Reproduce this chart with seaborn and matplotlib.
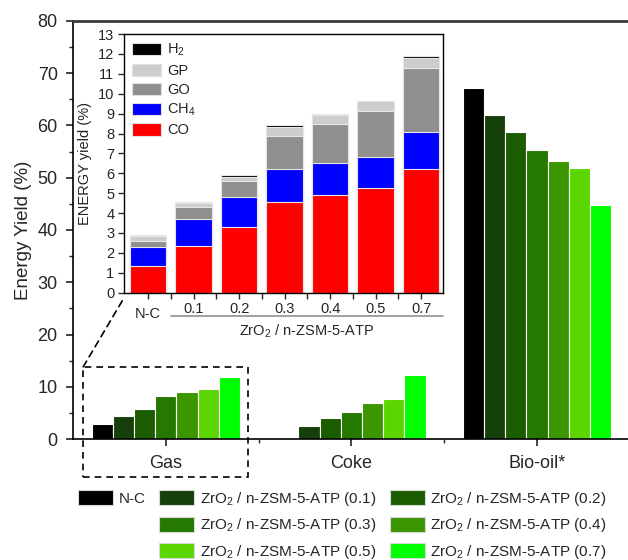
import numpy as np
import pandas as pd
import matplotlib
matplotlib.use("Agg")
import matplotlib.pyplot as plt
import seaborn as sns
from matplotlib.patches import Rectangle, ConnectionPatch, Patch
from matplotlib.ticker import MultipleLocator, FixedLocator
from matplotlib.transforms import ScaledTranslation

# ---------------- data ----------------
categories = ["Gas", "Coke", "Bio-oil*"]
samples = ["N-C", "0.1", "0.2", "0.3", "0.4", "0.5", "0.7"]
sample_labels = ["N-C"] + ["ZrO$_2$ / n-ZSM-5-ATP (%s)" % s for s in samples[1:]]
gas_yield = [2.9, 4.5, 5.85, 8.35, 8.95, 9.6, 11.85]
coke_yield = [0.0, 2.5, 4.0, 5.3, 6.95, 7.7, 12.3]
biooil_yield = [67.2, 62.0, 58.8, 55.3, 53.2, 51.8, 44.8]
sample_colors = ["#000000", "#16400a", "#1c5c00", "#257800", "#3c9600", "#5cd600", "#00ff00"]

inset_labels = ["N-C", "0.1", "0.2", "0.3", "0.4", "0.5", "0.7"]
co = [1.32, 2.36, 3.28, 4.56, 4.89, 5.24, 6.22]
ch4 = [0.98, 1.36, 1.54, 1.67, 1.61, 1.59, 1.87]
go = [0.30, 0.60, 0.81, 1.63, 1.96, 2.28, 3.19]
gp = [0.25, 0.20, 0.20, 0.47, 0.48, 0.50, 0.52]
h2 = [0.06, 0.06, 0.08, 0.08, 0.06, 0.04, 0.08]
gas_components = ["CO", "CH$_4$", "GO", "GP", "H$_2$"]
component_colors = ["#ff0000", "#0000ff", "#8f8f8f", "#cdcdcd", "#000000"]

# ---------------- style ----------------
sns.set_style("ticks")
plt.rcParams["font.family"] = ["Liberation Sans", "DejaVu Sans"]
plt.rcParams["mathtext.fontset"] = "custom"
plt.rcParams["mathtext.rm"] = "Liberation Sans"
plt.rcParams["mathtext.default"] = "regular"

W, H = 628, 560
fig = plt.figure(figsize=(W / 100, H / 100), dpi=100)

# ---------------- main axes ----------------
ax = fig.add_axes([73 / W, (H - 439.3) / H, 1 - 73 / W, (439.3 - 20.7) / H])
df = pd.DataFrame({
    "category": np.repeat(categories, len(samples)),
    "sample": samples * len(categories),
    "value": gas_yield + coke_yield + biooil_yield,
})
sns.barplot(data=df, x="category", y="value", hue="sample", order=categories,
            hue_order=samples, palette=sample_colors, saturation=1, width=0.8,
            errorbar=None, edgecolor="white", linewidth=0.8, legend=False, ax=ax)
ax.set_xlim(-0.5, 2.49)
ax.set_ylim(0, 80)
ax.set_xlabel("")
ax.set_ylabel("Energy Yield (%)", fontsize=13.5, labelpad=4)
ax.yaxis.set_major_locator(MultipleLocator(10))
ax.yaxis.set_minor_locator(MultipleLocator(5))
ax.set_xticks([0, 1, 2])
ax.set_xticklabels(categories)
ax.xaxis.set_minor_locator(FixedLocator([0.5, 1.5]))
ax.tick_params(axis="both", which="major", direction="out", length=5, width=1.2,
               labelsize=13, pad=6)
ax.tick_params(axis="both", which="minor", direction="out", length=3, width=1.0)
ax.spines["right"].set_visible(False)
ax.spines["top"].set_visible(True)
ax.spines["top"].set_color("#3a3a3a")
ax.spines["top"].set_linewidth(2.0)
for s in ["left", "bottom"]:
    ax.spines[s].set_linewidth(1.2)
    ax.spines[s].set_color("black")

# dashed box around gas group and connector to the inset
box = Rectangle((-0.445, -7.2), 0.89, 21.05, fill=False, linestyle=(0, (4, 3)),
                linewidth=1.2, edgecolor="black", clip_on=False, zorder=5)
ax.add_patch(box)

# ---------------- inset ----------------
ax_in = fig.add_axes([124 / W, (H - 292.7) / H, (443 - 124) / W, (292.7 - 34) / H])
layers = [co, ch4, go, gp, h2]
cum = np.cumsum(np.array(layers), axis=0)
for i in range(len(layers) - 1, -1, -1):
    sns.barplot(x=inset_labels, y=cum[i], order=inset_labels, color=component_colors[i],
                saturation=1, width=0.8, errorbar=None, edgecolor="#e6e6e6",
                linewidth=0.8, ax=ax_in)
ax_in.set_xlim(-0.53, 6.48)
ax_in.set_ylim(0, 13)
ax_in.yaxis.set_major_locator(MultipleLocator(1))
ax_in.set_xticks(range(len(inset_labels)))
ax_in.set_xticklabels(inset_labels)
ax_in.xaxis.set_minor_locator(FixedLocator(np.arange(0.5, 6, 1.0)))
ax_in.tick_params(axis="both", which="major", direction="out", length=4, width=1.0,
                  labelsize=10.5, pad=3)
ax_in.tick_params(axis="x", which="minor", direction="out", length=4, width=1.0)
ax_in.set_xlabel("")
ax_in.set_ylabel("ENERGY yield (%)", fontsize=10.5, labelpad=4)
for s in ax_in.spines.values():
    s.set_linewidth(1.0)
    s.set_color("black")
lbl0 = ax_in.get_xticklabels()[0]
lbl0.set_transform(lbl0.get_transform() + ScaledTranslation(0, -0.05, fig.dpi_scale_trans))

# group line and label under the inset
ax_in.plot([0.5, 6.48], [-0.09, -0.09], transform=ax_in.get_xaxis_transform(),
           color="#9a9a9a", linewidth=1.3, clip_on=False)
ax_in.text(3.49, -0.148, "ZrO$_2$ / n-ZSM-5-ATP", transform=ax_in.get_xaxis_transform(),
           ha="center", va="center", fontsize=10.5)

handles_in = [Patch(facecolor=component_colors[i], edgecolor="#e0e0e0", linewidth=0.8)
              for i in range(len(layers) - 1, -1, -1)]
labels_in = [gas_components[i] for i in range(len(layers) - 1, -1, -1)]
ax_in.legend(handles_in, labels_in, loc="upper left", frameon=False, fontsize=10.5,
             handlelength=2.0, handleheight=0.9, labelspacing=0.35,
             handletextpad=0.4, borderaxespad=0.1, borderpad=0.45)

con = ConnectionPatch(xyA=(-0.445, 13.85), coordsA=ax.transData,
                      xyB=(0, -0.02), coordsB=ax_in.transAxes,
                      linestyle=(0, (4, 3)), linewidth=1.2, color="black", zorder=6)
fig.add_artist(con)

# ---------------- bottom legend ----------------
blank = Rectangle((0, 0), 1, 1, visible=False)
patches = [Patch(facecolor=c, edgecolor="#d9d9d9", linewidth=0.8) for c in sample_colors]
order = [0, None, None, 1, 3, 5, 2, 4, 6]
handles = [patches[k] if k is not None else blank for k in order]
labels = [sample_labels[k] if k is not None else "" for k in order]
fig.legend(handles, labels, ncol=3, loc="upper left", bbox_to_anchor=(78 / W, 1 - 490 / H),
           frameon=False, fontsize=11, handlelength=2.3, handleheight=1.1,
           labelspacing=0.55, handletextpad=0.35, columnspacing=0.9, borderpad=0,
           borderaxespad=0)

fig.savefig("out.png", dpi=100)
